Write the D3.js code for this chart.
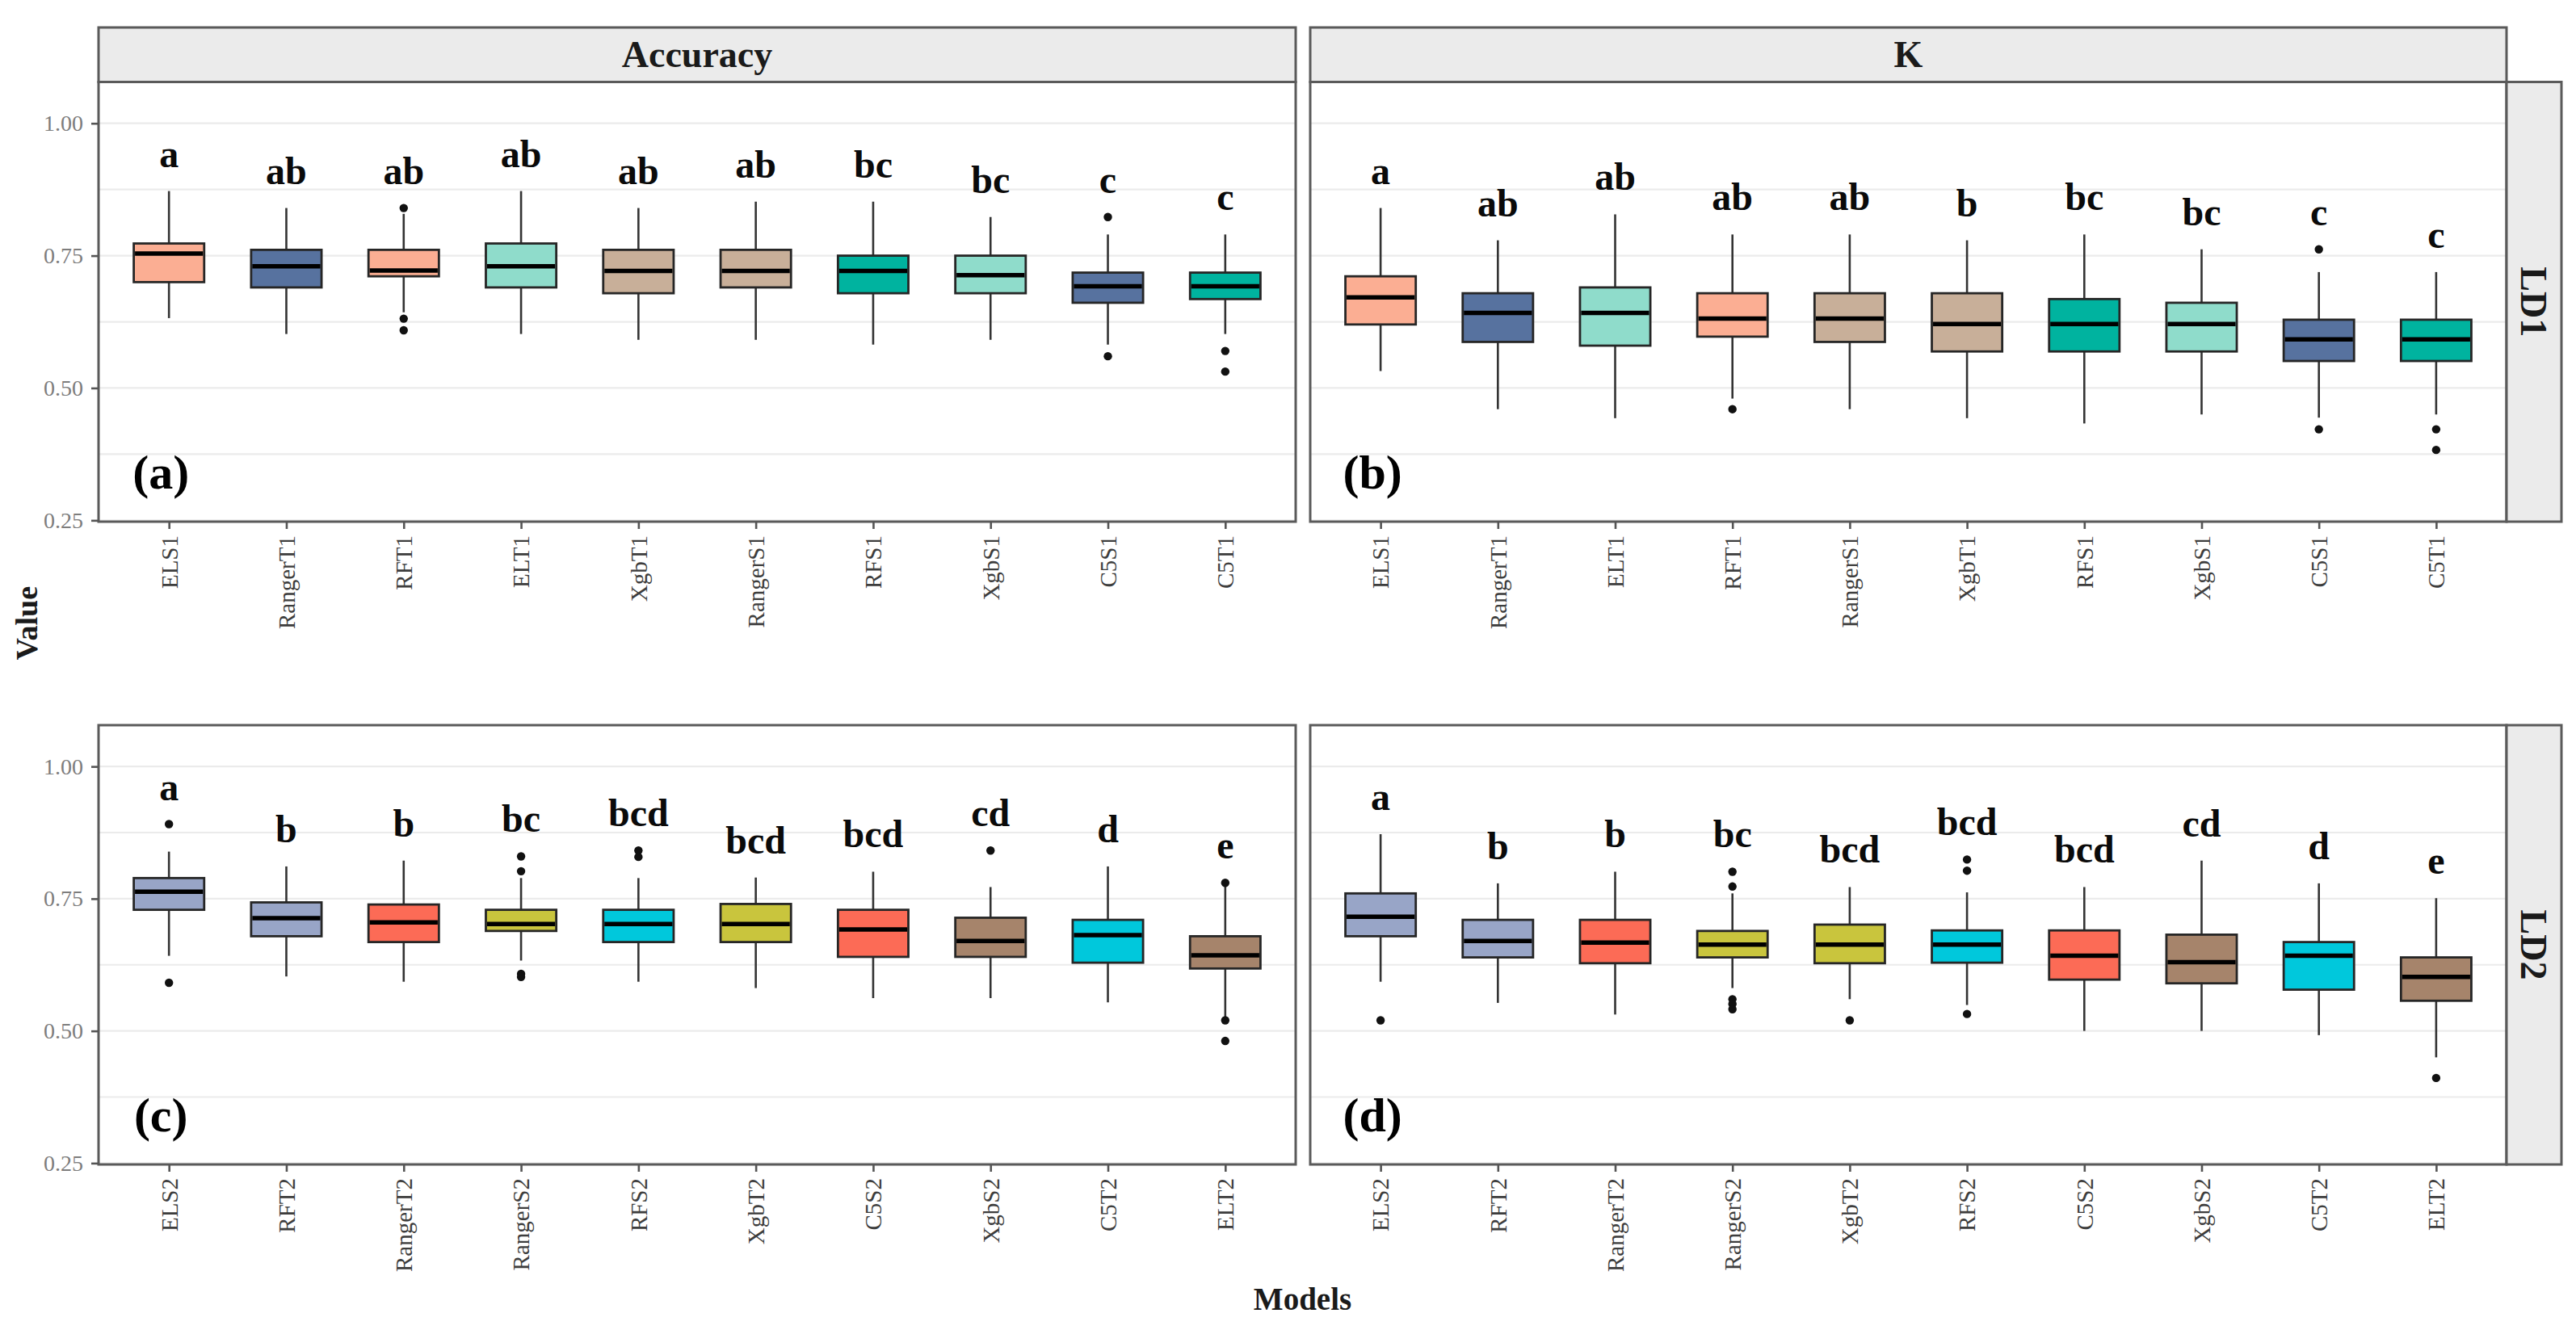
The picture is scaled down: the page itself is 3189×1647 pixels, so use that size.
<!DOCTYPE html>
<html><head><meta charset="utf-8">
<script src="https://cdn.jsdelivr.net/npm/d3@7"></script>
<style>body{margin:0;background:#fff} svg{display:block}</style>
</head><body>
<svg id="chart" width="3189" height="1647"></svg>
<script>
// ---------- data ----------
const metrics = ["Accuracy", "K"];
const rowsLab = ["LD1", "LD2"];
const panelTags = ["(a)", "(b)", "(c)", "(d)"];
const yTicks = [0.25, 0.50, 0.75, 1.00];
const yMinor = [0.375, 0.625, 0.875];
const xTitle = "Models";
const yTitle = "Value";

// stats: [lower whisker, Q1, median, Q3, upper whisker]
const modelsA = ["ELS1","RangerT1","RFT1","ELT1","XgbT1","RangerS1","RFS1","XgbS1","C5S1","C5T1"];
const statsA = [
  [0.632,0.700,0.754,0.773,0.872],[0.602,0.690,0.730,0.761,0.840],[0.643,0.711,0.722,0.761,0.829],
  [0.602,0.690,0.730,0.773,0.872],[0.591,0.679,0.721,0.761,0.840],[0.591,0.690,0.721,0.761,0.852],
  [0.582,0.679,0.721,0.750,0.852],[0.591,0.679,0.713,0.750,0.823],[0.582,0.661,0.692,0.718,0.790],
  [0.602,0.668,0.692,0.718,0.790]];
const outliersA = [[],[],[0.840,0.631,0.609],[],[],[],[],[],[0.823,0.560],[0.570,0.531]];
const lettersA = ["a","ab","ab","ab","ab","ab","bc","bc","c","c"];

const modelsB = ["ELS1","RangerT1","ELT1","RFT1","RangerS1","XgbT1","RFS1","XgbS1","C5S1","C5T1"];
const statsB = [
  [0.532,0.620,0.671,0.711,0.840],[0.460,0.587,0.642,0.679,0.779],[0.443,0.580,0.642,0.690,0.828],
  [0.480,0.597,0.631,0.679,0.790],[0.460,0.587,0.631,0.679,0.790],[0.443,0.569,0.621,0.679,0.779],
  [0.433,0.569,0.621,0.668,0.790],[0.450,0.569,0.621,0.661,0.762],[0.444,0.551,0.592,0.629,0.719],
  [0.450,0.551,0.592,0.629,0.719]];
const outliersB = [[],[],[],[0.460],[],[],[],[],[0.762,0.422],[0.422,0.383]];
const lettersB = ["a","ab","ab","ab","ab","b","bc","bc","c","c"];

const modelsC = ["ELS2","RFT2","RangerT2","RangerS2","RFS2","XgbT2","C5S2","XgbS2","C5T2","ELT2"];
const statsC = [
  [0.642,0.729,0.763,0.789,0.839],[0.603,0.679,0.713,0.743,0.811],[0.593,0.668,0.705,0.739,0.822],
  [0.633,0.689,0.702,0.729,0.789],[0.593,0.668,0.702,0.729,0.789],[0.581,0.668,0.702,0.740,0.790],
  [0.562,0.640,0.692,0.729,0.801],[0.562,0.640,0.670,0.714,0.772],[0.554,0.629,0.681,0.710,0.811],
  [0.523,0.618,0.643,0.679,0.776]];
const outliersC = [[0.891,0.591],[],[],[0.830,0.802,0.608,0.602],[0.841,0.829],[],[],[0.841],[],[0.780,0.520,0.481]];
const lettersC = ["a","b","b","bc","bcd","bcd","bcd","cd","d","e"];

const modelsD = ["ELS2","RFT2","RangerT2","RangerS2","XgbT2","RFS2","C5S2","XgbS2","C5T2","ELT2"];
const statsD = [
  [0.593,0.679,0.716,0.760,0.872],[0.553,0.639,0.670,0.710,0.779],[0.531,0.628,0.667,0.710,0.801],
  [0.581,0.639,0.663,0.689,0.760],[0.560,0.628,0.663,0.701,0.772],[0.549,0.629,0.663,0.690,0.762],
  [0.500,0.597,0.642,0.690,0.772],[0.500,0.590,0.630,0.682,0.822],[0.492,0.578,0.642,0.668,0.779],
  [0.450,0.557,0.602,0.639,0.751]];
const outliersD = [[0.520],[],[],[0.801,0.773,0.560,0.551,0.541],[0.520],[0.824,0.803,0.532],[],[],[],[0.411]];
const lettersD = ["a","b","b","bc","bcd","bcd","bcd","cd","d","e"];

// fill colour per model
const colorModels = ["ELS1","RFT1","RangerT1","C5S1","ELT1","XgbS1","XgbT1","RangerS1","RFS1","C5T1",
                     "ELS2","RFT2","RangerT2","C5S2","RangerS2","XgbT2","RFS2","C5T2","XgbS2","ELT2"];
const colorFills  = ["#FBAE93","#FBAE93","#57729F","#57729F","#8FDCCB","#8FDCCB","#C8AF99","#C8AF99","#00B39F","#00B39F",
                     "#98A5C7","#98A5C7","#FC6B56","#FC6B56","#C9C53D","#C9C53D","#00C8DC","#00C8DC","#A6846B","#A6846B"];

// ---------- layout ----------
const FONT = "'Liberation Serif','Times New Roman',serif";
const colX = [[122, 1604], [1622, 3103]];
const rowY = [[101.5, 646], [898, 1442]];
const stripTop = 34, stripRight = [3103, 3171];
const yDomain = [0.2475, 1.0781];

const fill = d3.scaleOrdinal().domain(colorModels).range(colorFills);
const svg = d3.select("#chart");

const panels = [
  {r:0,c:0,models:modelsA,stats:statsA,out:outliersA,let:lettersA},
  {r:0,c:1,models:modelsB,stats:statsB,out:outliersB,let:lettersB},
  {r:1,c:0,models:modelsC,stats:statsC,out:outliersC,let:lettersC},
  {r:1,c:1,models:modelsD,stats:statsD,out:outliersD,let:lettersD}
];

panels.forEach((p, i) => {
  const [x0, x1] = colX[p.c];
  const [y0, y1] = rowY[p.r];
  const x = d3.scalePoint().domain(p.models).range([x0, x1]).padding(0.6);
  const y = d3.scaleLinear().domain(yDomain).range([y1, y0]);
  const g = svg.append("g");
  const bw = x.step() * 0.6;

  // grid
  g.selectAll("line.grid").data(yTicks.concat(yMinor)).join("line")
    .attr("x1", x0).attr("x2", x1).attr("y1", d => y(d)).attr("y2", d => y(d))
    .attr("stroke", "#EBEBEB").attr("stroke-width", 2.2);

  const data = p.models.map((m, k) => ({m, s: p.stats[k], o: p.out[k], l: p.let[k]}));

  // whiskers
  g.selectAll("line.wl").data(data).join("line")
    .attr("x1", d => x(d.m)).attr("x2", d => x(d.m))
    .attr("y1", d => y(d.s[0])).attr("y2", d => y(d.s[1]))
    .attr("stroke", "#333").attr("stroke-width", 2.6);
  g.selectAll("line.wh").data(data).join("line")
    .attr("x1", d => x(d.m)).attr("x2", d => x(d.m))
    .attr("y1", d => y(d.s[3])).attr("y2", d => y(d.s[4]))
    .attr("stroke", "#333").attr("stroke-width", 2.6);
  // boxes
  g.selectAll("rect.box").data(data).join("rect")
    .attr("x", d => x(d.m) - bw / 2).attr("width", bw)
    .attr("y", d => y(d.s[3])).attr("height", d => y(d.s[1]) - y(d.s[3]))
    .attr("fill", d => fill(d.m)).attr("stroke", "#262626").attr("stroke-width", 2.8);
  // medians
  g.selectAll("line.med").data(data).join("line")
    .attr("x1", d => x(d.m) - bw / 2 + 1.5).attr("x2", d => x(d.m) + bw / 2 - 1.5)
    .attr("y1", d => y(d.s[2])).attr("y2", d => y(d.s[2]))
    .attr("stroke", "#000").attr("stroke-width", 5.5);
  // outliers
  data.forEach(d => {
    g.selectAll(null).data(d.o).join("circle")
      .attr("cx", x(d.m)).attr("cy", v => y(v)).attr("r", 5.2).attr("fill", "#111");
  });
  // letters
  g.selectAll("text.let").data(data).join("text")
    .attr("x", d => x(d.m)).attr("y", d => y(d3.max([d.s[4]].concat(d.o))) - 30)
    .attr("text-anchor", "middle").attr("font-family", FONT).attr("font-weight", "bold")
    .attr("font-size", 48).attr("fill", "#0a0a0a").text(d => d.l);
  // tag
  g.append("text").attr("x", x(p.models[0]) - 10).attr("y", y(0.31))
    .attr("text-anchor", "middle").attr("font-family", FONT).attr("font-weight", "bold")
    .attr("font-size", 60).attr("fill", "#000").text(panelTags[i]);

  // border
  g.append("rect").attr("x", x0).attr("y", y0).attr("width", x1 - x0).attr("height", y1 - y0)
    .attr("fill", "none").attr("stroke", "#5a5a5a").attr("stroke-width", 3);

  // x axis
  const ax = g.append("g").attr("transform", `translate(0,${y1})`)
    .call(d3.axisBottom(x).tickSize(9).tickSizeOuter(0));
  ax.select(".domain").remove();
  ax.selectAll(".tick line").attr("stroke", "#555").attr("stroke-width", 2.6);
  ax.selectAll(".tick text").attr("transform", "rotate(-90)").attr("x", -17).attr("y", 0)
    .attr("dy", "0.34em").attr("text-anchor", "end")
    .attr("font-family", FONT).attr("font-size", 29).attr("fill", "#3d3d3d");

  // y axis
  if (p.c === 0) {
    const ay = g.append("g").attr("transform", `translate(${x0},0)`)
      .call(d3.axisLeft(y).tickValues(yTicks).tickFormat(d3.format(".2f")).tickSize(9).tickPadding(10));
    ay.select(".domain").remove();
    ay.selectAll(".tick line").attr("stroke", "#555").attr("stroke-width", 2.6);
    ay.selectAll(".tick text").attr("font-family", FONT).attr("font-size", 28).attr("fill", "#7d7d7d");
  }

  // top strip
  if (p.r === 0) {
    svg.append("rect").attr("x", x0).attr("y", stripTop).attr("width", x1 - x0).attr("height", y0 - stripTop)
      .attr("fill", "#EBEBEB").attr("stroke", "#5a5a5a").attr("stroke-width", 3);
    svg.append("text").attr("x", (x0 + x1) / 2).attr("y", (stripTop + y0) / 2 + 15)
      .attr("text-anchor", "middle").attr("font-family", FONT).attr("font-size", 46)
      .attr("font-weight", "bold").attr("fill", "#1a1a1a").text(metrics[p.c]);
  }
  // right strip
  if (p.c === 1) {
    svg.append("rect").attr("x", stripRight[0]).attr("y", y0).attr("width", stripRight[1] - stripRight[0])
      .attr("height", y1 - y0).attr("fill", "#EBEBEB").attr("stroke", "#5a5a5a").attr("stroke-width", 3);
    const cx = (stripRight[0] + stripRight[1]) / 2, cy = (y0 + y1) / 2;
    svg.append("text").attr("transform", `translate(${cx},${cy}) rotate(90)`)
      .attr("text-anchor", "middle").attr("dy", "0.35em").attr("font-family", FONT).attr("font-size", 46)
      .attr("font-weight", "bold").attr("fill", "#1a1a1a").text(rowsLab[p.r]);
  }
});

// axis titles
svg.append("text").attr("x", (colX[0][0] + colX[1][1]) / 2).attr("y", 1622)
  .attr("text-anchor", "middle").attr("font-family", FONT).attr("font-weight", "bold")
  .attr("font-size", 39).attr("fill", "#1a1a1a").text(xTitle);
svg.append("text").attr("transform", `translate(46,${(rowY[0][0] + rowY[1][1]) / 2}) rotate(-90)`)
  .attr("text-anchor", "middle").attr("font-family", FONT).attr("font-weight", "bold")
  .attr("font-size", 38).attr("fill", "#1a1a1a").text(yTitle);
</script>
</body></html>
